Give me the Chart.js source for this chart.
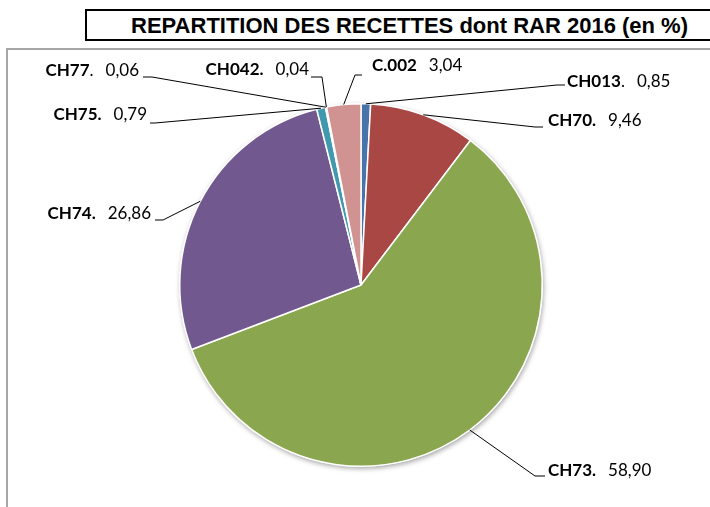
<!DOCTYPE html>
<html>
<head>
<meta charset="utf-8">
<script src="https://cdn.jsdelivr.net/npm/chart.js@4/dist/chart.umd.min.js"></script>
<style>
  html, body { margin: 0; padding: 0; background: #fff; }
  #wrap { position: relative; width: 710px; height: 507px; overflow: hidden; background: #fff; }
  #frame { position: absolute; left: 6px; top: 48px; width: 800px; height: 600px;
           border-left: 2px solid #a6a6a6; border-top: 2px solid #a6a6a6; }
  #title { position: absolute; left: 85px; top: 9px; width: 700px; height: 28px;
           border: 2px solid #000; font-family: "Liberation Sans", Arial, sans-serif;
           font-weight: bold; font-size: 22px; line-height: 30px; color: #000; }
  #title span { position: absolute; left: 44px; top: 0; white-space: nowrap; }
  canvas { position: absolute; left: 0; top: 0; }
</style>
</head>
<body>
<div id="wrap">
  <div id="frame"></div>
  <div id="title"><span>REPARTITION DES RECETTES dont RAR 2016 (en %)</span></div>
  <canvas id="c" width="710" height="507"></canvas>
</div>
<script>
// ---- data ----
const categories = ['CH013', 'CH70.', 'CH73.', 'CH74.', 'CH75.', 'CH77', 'CH042.', 'C.002'];
const nameSuffix = ['.', '', '', '', '', '.', '', ''];
const valueLabels = ['0,85', '9,46', '58,90', '26,86', '0,79', '0,06', '0,04', '3,04'];
const values = [0.85, 9.46, 58.90, 26.86, 0.79, 0.06, 0.04, 3.04];
const colors = ['#4674AB', '#A94744', '#8AA64F', '#71588F', '#4298AF', '#DB843D', '#93A9CF', '#D09392'];

// label layout relative to pie centre (px): elbow, end of horizontal tick, text anchor
const layout = [
  { ex: 196, ey: -200, hx: 204, tx: 206, ty: -203, align: 'left' },
  { ex: 174, ey: -158, hx: 182, tx: 187, ty: -164, align: 'left' },
  { ex: 174, ey: 191,  hx: 184, tx: 187, ty: 186,  align: 'left' },
  { ex: -198, ey: -65, hx: -206, tx: -210, ty: -71, align: 'right' },
  { ex: -206, ey: -162, hx: -211, tx: -214, ty: -170, align: 'right' },
  { ex: -209, ey: -208, hx: -218, tx: -222, ty: -214, align: 'right' },
  { ex: -39, ey: -208, hx: -50, tx: -52, ty: -215, align: 'right' },
  { ex: -6, ey: -210, hx: 1, tx: 11, ty: -219, align: 'left' }
];

const FONT = 'Lato, "Open Sans", sans-serif';
const SIZE = 17;
const GAP = 12;

const labelPlugin = {
  id: 'pieDecor',
  beforeDatasetsDraw(chart) {
    const arc = chart.getDatasetMeta(0).data[0];
    if (!arc) return;
    const ctx = chart.ctx;
    ctx.save();
    ctx.shadowColor = 'rgba(0,0,0,0.35)';
    ctx.shadowBlur = 5;
    ctx.shadowOffsetX = 1;
    ctx.shadowOffsetY = 2;
    ctx.fillStyle = '#ffffff';
    ctx.beginPath();
    ctx.arc(arc.x, arc.y, arc.outerRadius + 0.5, 0, Math.PI * 2);
    ctx.fill();
    ctx.restore();
  },
  afterDatasetsDraw(chart) {
    const ctx = chart.ctx;
    const meta = chart.getDatasetMeta(0);
    meta.data.forEach((a, i) => {
      const L = layout[i];
      const cx = a.x, cy = a.y;
      const mid = (a.startAngle + a.endAngle) / 2;
      const sx = cx + Math.cos(mid) * a.outerRadius;
      const sy = cy + Math.sin(mid) * a.outerRadius;
      ctx.save();
      ctx.strokeStyle = '#000';
      ctx.lineWidth = 1;
      ctx.beginPath();
      ctx.moveTo(sx, sy);
      ctx.lineTo(cx + L.ex, cy + L.ey);
      ctx.lineTo(cx + L.hx, cy + L.ey);
      ctx.stroke();

      const bold = categories[i];
      const suf = nameSuffix[i];
      const val = valueLabels[i];
      ctx.fillStyle = '#000';
      ctx.textBaseline = 'middle';
      ctx.textAlign = 'left';
      ctx.font = 'bold ' + SIZE + 'px ' + FONT;
      const wb = ctx.measureText(bold).width;
      ctx.font = SIZE + 'px ' + FONT;
      const ws = ctx.measureText(suf).width;
      const wv = ctx.measureText(val).width;
      const total = wb + ws + GAP + wv;
      const x0 = L.align === 'left' ? cx + L.tx : cx + L.tx - total;
      const y = cy + L.ty;
      ctx.font = 'bold ' + SIZE + 'px ' + FONT;
      ctx.fillText(bold, x0, y);
      ctx.font = SIZE + 'px ' + FONT;
      if (suf) ctx.fillText(suf, x0 + wb, y);
      ctx.fillText(val, x0 + wb + ws + GAP, y);
      ctx.restore();
    });
  }
};

new Chart(document.getElementById('c'), {
  type: 'pie',
  data: {
    labels: categories,
    datasets: [{
      data: values,
      backgroundColor: colors,
      borderColor: '#ffffff',
      borderWidth: 1.5,
      hoverOffset: 0
    }]
  },
  options: {
    responsive: false,
    devicePixelRatio: 1,
    animation: false,
    layout: { padding: { left: 179, right: 167, top: 103, bottom: 40 } },
    plugins: {
      legend: { display: false },
      title: { display: false },
      tooltip: { enabled: false }
    }
  },
  plugins: [labelPlugin]
});
</script>
</body>
</html>
